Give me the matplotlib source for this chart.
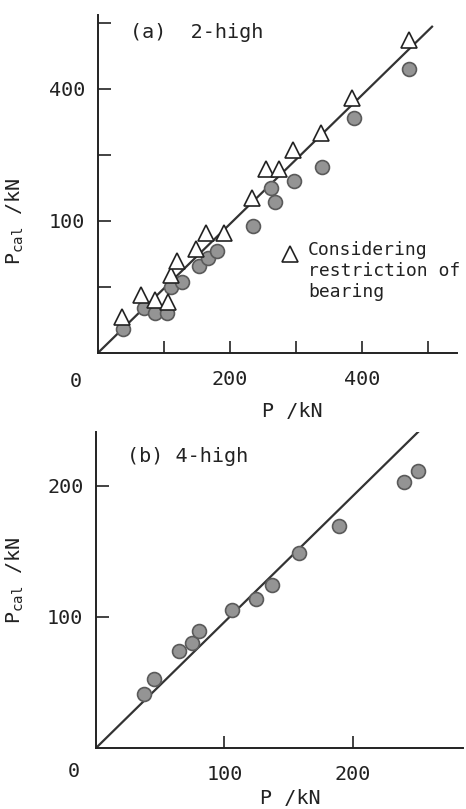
"""
Calculated vs measured rolling load, 2-high and 4-high mills
"""

import matplotlib.pyplot as plt

# (a) 2-high : considering restriction of bearing (triangles)
tri_p = [37, 66, 86, 106, 110, 120, 148, 164, 191, 233, 254, 274, 295, 338, 385, 471]
tri_pcal = [55, 88, 80, 77, 118, 139, 158, 182, 182, 235, 279, 279, 308, 333, 386, 474]

# (a) 2-high : circles
circ_p = [38, 70, 86, 104, 110, 127, 153, 167, 180, 235, 262, 268, 297, 339, 388, 471]
circ_pcal = [36, 68, 61, 61, 100, 108, 131, 144, 155, 192, 250, 229, 260, 281, 356, 430]

# (b) 4-high : circles
b_p = [37, 45, 65, 75, 80, 106, 125, 137, 158, 189, 240, 251]
b_pcal = [41, 53, 74, 80, 89, 105, 114, 124, 149, 169, 203, 211]

# reference lines (from origin)
line_a_x = [0, 506]
line_a_y = [0, 494]
line_b_x = [0, 255]
line_b_y = [0, 245]

FONT = 'DejaVu Sans Mono'
FS = 14.5
plt.rcParams['font.family'] = FONT
plt.rcParams['mathtext.fontset'] = 'custom'
plt.rcParams['mathtext.rm'] = FONT


def style_axes(ax):
    for s in ['top', 'right']:
        ax.spines[s].set_visible(False)
    for s in ['left', 'bottom']:
        ax.spines[s].set_linewidth(1.4)
        ax.spines[s].set_color('#222222')
    ax.tick_params(direction='in', length=9, width=1.2, labelsize=FS,
                   colors='#222222')
    ax.tick_params(axis='x', pad=12)
    ax.tick_params(axis='y', pad=9)


fig = plt.figure(figsize=(4.66, 8.09), dpi=100)

circ_style = dict(marker='o', ms=10, mfc='#949494', mec='#5a5a5a', mew=1.2,
                  ls='none', zorder=3)
tri_style = dict(marker='^', ms=12, mfc='white', mec='#222222', mew=1.2,
                 ls='none', zorder=4)

# ---- (a) 2-high ----
ax1 = fig.add_axes([0.210, 0.5637, 0.771, 0.418])
ax1.plot(line_a_x, line_a_y, color='#333333', lw=1.6, zorder=2)
ax1.plot(circ_p, circ_pcal, **circ_style)
ax1.plot(tri_p, tri_pcal, **tri_style)
ax1.set_xlim(0, 544)
ax1.set_ylim(0, 512)
ax1.set_xticks([100, 200, 300, 400, 500])
ax1.set_xticklabels(['', '200', '', '400', ''])
ax1.set_yticks([100, 200, 300, 400, 500])
ax1.set_yticklabels(['', '100', '', '400', ''])
style_axes(ax1)
ax1.text(-0.06, -0.085, '0', transform=ax1.transAxes, fontsize=FS,
         ha='center', va='center', color='#222222')
ax1.set_xlabel('P /kN', fontsize=FS, color='#222222')
ax1.xaxis.set_label_coords(0.54, -0.145)
ax1.set_ylabel(r'P$_\mathregular{cal}$ /kN', fontsize=FS, color='#222222')
ax1.yaxis.set_label_coords(-0.20, 0.39)
ax1.text(48, 485, '(a)  2-high', fontsize=FS, va='center', color='#222222')
ax1.plot([291], [150], **tri_style)
ax1.text(318, 169, 'Considering\nrestriction of\nbearing', fontsize=13,
         va='top', ha='left', linespacing=1.2, color='#222222')

# ---- (b) 4-high ----
ax2 = fig.add_axes([0.206, 0.0754, 0.788, 0.3906])
ax2.plot(line_b_x, line_b_y, color='#333333', lw=1.6, zorder=2)
ax2.plot(b_p, b_pcal, **circ_style)
ax2.set_xlim(0, 286)
ax2.set_ylim(0, 241)
ax2.set_xticks([100, 200])
ax2.set_yticks([100, 200])
style_axes(ax2)
ax2.text(-0.06, -0.075, '0', transform=ax2.transAxes, fontsize=FS,
         ha='center', va='center', color='#222222')
ax2.set_xlabel('P /kN', fontsize=FS, color='#222222')
ax2.xaxis.set_label_coords(0.53, -0.13)
ax2.set_ylabel(r'P$_\mathregular{cal}$ /kN', fontsize=FS, color='#222222')
ax2.yaxis.set_label_coords(-0.19, 0.53)
ax2.text(24, 222, '(b) 4-high', fontsize=FS, va='center', color='#222222')

plt.savefig('out.png', dpi=100)
plt.close()
